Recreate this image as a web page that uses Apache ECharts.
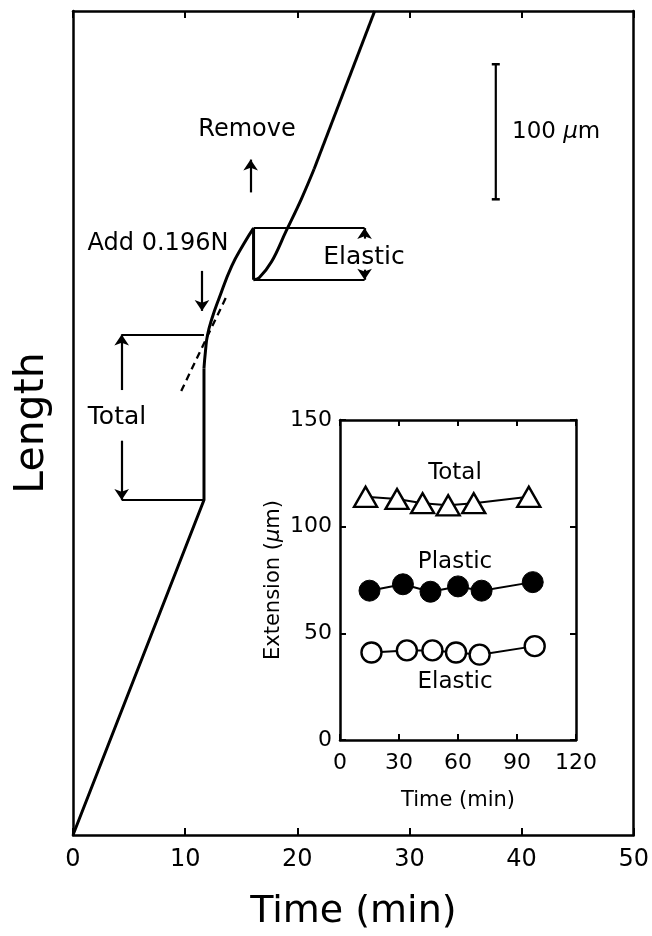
<!DOCTYPE html>
<html>
<head>
<meta charset="utf-8">
<script src="https://cdn.jsdelivr.net/npm/echarts@6/dist/echarts.min.js"></script>
<style>
  html, body { margin: 0; padding: 0; background: #fff; }
  #chart { width: 652px; height: 936px; }
</style>
</head>
<body>
<div id="chart"></div>
<script>
// Main trace: specimen length (µm) against time (min)
// Constant-rate stretch before the load is added
var rampTime = [0, 11.68, 11.68];
var rampLength = [0, 248, 345.6];
// Creep under load, up to removal
var creepTime = [11.68, 11.81, 11.99, 12.39, 13.01, 14.16, 15.22, 16.1];
var creepLength = [345.6, 358, 369.9, 382.4, 397, 421.3, 437.5, 449.3];
// Elastic recoil when the load is removed
var recoilTime = [16.1, 16.1];
var recoilLength = [449.3, 411];
// Recovery and resumed stretch
var recoverTime = [16.1, 16.6, 17.7, 19.0, 20.35, 21.5];
var recoverLength = [411, 412.5, 424.3, 447, 470.6, 493];
var resumeTime = [21.5, 26.9];
var resumeLength = [493, 610];
// Extrapolated creep line (dashed)
var tangentTime = [9.65, 13.72];
var tangentLength = [328.7, 399.3];

// Measurement brackets
var totalBracket = { t0: 4.34, t1: 11.68, low: 248, high: 370.6 };
var elasticBracket = { t0: 16.1, t1: 26.0, low: 411, high: 449.3 };
var scaleBar = { t: 37.7, low: 470.6, high: 570.6 };

// Inset: extension (µm) against time (min)
var totalTime = [13, 29, 42, 55, 68, 96];
var totalExt = [114, 113, 111, 110, 111, 114];
var plasticTime = [15, 32, 46, 60, 72, 98];
var plasticExt = [70, 73, 69.5, 72, 70, 74];
var elasticTime = [16, 34, 47, 59, 71, 99];
var elasticExt = [41, 42, 42, 41, 40, 44];

function pairs(xs, ys) { return xs.map(function (x, i) { return [x, ys[i]]; }); }

var FONT = 'DejaVu Sans';
var BLACK = '#000';
var chart = echarts.init(document.getElementById('chart'), null, { renderer: 'canvas' });

function frameAxis(extra) {
  return Object.assign({
    type: 'value',
    axisLine: { show: true, onZero: false, lineStyle: { color: BLACK, width: 2.5 } },
    axisTick: { show: false },
    axisLabel: { show: false },
    splitLine: { show: false }
  }, extra);
}
function ticks(len) {
  return { show: true, inside: true, length: len, lineStyle: { color: BLACK, width: 2 } };
}

var bracketLines = [
  { coords: [[totalBracket.t0, totalBracket.high], [totalBracket.t1, totalBracket.high]] },
  { coords: [[totalBracket.t0, totalBracket.low], [totalBracket.t1, totalBracket.low]] },
  { coords: [[elasticBracket.t0, elasticBracket.high], [elasticBracket.t1, elasticBracket.high]] },
  { coords: [[elasticBracket.t0, elasticBracket.low], [elasticBracket.t1, elasticBracket.low]] }
];

var arrowLines = [
  { coords: [[totalBracket.t0, 329.4], [totalBracket.t0, totalBracket.high]] },
  { coords: [[totalBracket.t0, 291.9], [totalBracket.t0, totalBracket.low]] },
  { coords: [[elasticBracket.t1, 441.5], [elasticBracket.t1, elasticBracket.high]] },
  { coords: [[elasticBracket.t1, 418.5], [elasticBracket.t1, elasticBracket.low]] },
  // "Add 0.196N" arrow
  { coords: [[11.5, 417.6], [11.5, 388]] },
  // "Remove" arrow
  { coords: [[15.84, 475.7], [15.84, 500]] }
];

function traceSeries(xs, ys, smooth) {
  return {
    type: 'line', xAxisIndex: 0, yAxisIndex: 0, data: pairs(xs, ys),
    showSymbol: false, smooth: smooth, lineStyle: { color: BLACK, width: 3 }, z: 5
  };
}

function label(x, y, text, size, extra) {
  return {
    type: 'text', x: x, y: y, z: 100,
    style: Object.assign({
      text: text, font: size + 'px "DejaVu Sans"', fill: BLACK,
      textAlign: 'center', textVerticalAlign: 'middle'
    }, extra || {})
  };
}

var option = {
  backgroundColor: '#fff',
  animation: false,
  textStyle: { fontFamily: FONT, color: BLACK },
  grid: [
    { left: 73, right: 14, top: 11, bottom: 96, show: false },
    { left: 340, right: 76, top: 420, bottom: 196, show: true, backgroundColor: '#fff', borderWidth: 0 }
  ],
  xAxis: [
    frameAxis({
      gridIndex: 0, min: 0, max: 50, interval: 10, position: 'bottom',
      axisTick: ticks(7),
      axisLabel: { show: true, color: BLACK, fontSize: 24, fontFamily: FONT, margin: 13 },
      name: 'Time (min)', nameLocation: 'middle', nameGap: 58,
      nameTextStyle: { fontSize: 38, fontFamily: FONT, color: BLACK }
    }),
    frameAxis({ gridIndex: 0, min: 0, max: 50, interval: 10, position: 'top', axisTick: ticks(7) }),
    frameAxis({
      gridIndex: 1, min: 0, max: 120, interval: 30, position: 'bottom',
      axisTick: ticks(6),
      axisLabel: { show: true, color: BLACK, fontSize: 22, fontFamily: FONT, margin: 12 },
      name: 'Time (min)', nameLocation: 'middle', nameGap: 50,
      nameTextStyle: { fontSize: 21, fontFamily: FONT, color: BLACK }
    }),
    frameAxis({ gridIndex: 1, min: 0, max: 120, interval: 30, position: 'top', axisTick: ticks(6) })
  ],
  yAxis: [
    frameAxis({
      gridIndex: 0, min: 0, max: 610, position: 'left',
      name: 'Length', nameLocation: 'middle', nameGap: 20,
      nameTextStyle: { fontSize: 41, fontFamily: FONT, color: BLACK }
    }),
    frameAxis({ gridIndex: 0, min: 0, max: 610, position: 'right' }),
    frameAxis({
      gridIndex: 1, min: 0, max: 150, interval: 50, position: 'left',
      axisTick: ticks(6),
      axisLabel: { show: true, color: BLACK, fontSize: 22, fontFamily: FONT, margin: 8 },
      name: 'Extension ({i|μ}m)', nameLocation: 'middle', nameGap: 56,
      nameTextStyle: {
        fontSize: 21, fontFamily: FONT, color: BLACK,
        rich: { i: { fontSize: 21, fontStyle: 'italic', fontFamily: FONT, color: BLACK } }
      }
    }),
    frameAxis({ gridIndex: 1, min: 0, max: 150, interval: 50, position: 'right', axisTick: ticks(6) })
  ],
  series: [
    traceSeries(rampTime, rampLength, false),
    traceSeries(creepTime, creepLength, true),
    traceSeries(recoilTime, recoilLength, false),
    traceSeries(recoverTime, recoverLength, 0.4),
    traceSeries(resumeTime, resumeLength, false),
    {
      type: 'line', xAxisIndex: 0, yAxisIndex: 0, data: pairs(tangentTime, tangentLength),
      showSymbol: false, lineStyle: { color: BLACK, width: 2.3, type: [7, 5] }, z: 4
    },
    {
      type: 'lines', coordinateSystem: 'cartesian2d', xAxisIndex: 0, yAxisIndex: 0,
      data: bracketLines, symbol: 'none', lineStyle: { color: BLACK, width: 2.2, opacity: 1 }
    },
    {
      type: 'lines', coordinateSystem: 'cartesian2d', xAxisIndex: 0, yAxisIndex: 0,
      data: arrowLines, symbol: ['none', 'arrow'], symbolSize: [8, 11],
      lineStyle: { color: BLACK, width: 2.2, opacity: 1 }
    },
    {
      type: 'line', xAxisIndex: 0, yAxisIndex: 0,
      data: [[scaleBar.t, scaleBar.low], [scaleBar.t, scaleBar.high]],
      symbol: 'rect', symbolSize: [8, 2.5], showSymbol: true,
      itemStyle: { color: BLACK }, lineStyle: { color: BLACK, width: 2.2 }
    },
    // Inset series
    {
      type: 'line', xAxisIndex: 2, yAxisIndex: 2, data: pairs(totalTime, totalExt),
      symbol: 'triangle', symbolSize: [23, 20], showSymbol: true,
      itemStyle: { color: '#fff', borderColor: BLACK, borderWidth: 2.4 },
      lineStyle: { color: BLACK, width: 2 }
    },
    {
      type: 'line', xAxisIndex: 2, yAxisIndex: 2, data: pairs(plasticTime, plasticExt),
      symbol: 'circle', symbolSize: 21, showSymbol: true,
      itemStyle: { color: BLACK, borderColor: BLACK, borderWidth: 1 },
      lineStyle: { color: BLACK, width: 2 }
    },
    {
      type: 'line', xAxisIndex: 2, yAxisIndex: 2, data: pairs(elasticTime, elasticExt),
      symbol: 'circle', symbolSize: 20, showSymbol: true,
      itemStyle: { color: '#fff', borderColor: BLACK, borderWidth: 2.4 },
      lineStyle: { color: BLACK, width: 2 }
    }
  ],
  graphic: [
    label(247, 130, 'Remove', 24),
    label(158, 244, 'Add 0.196N', 24),
    label(364, 257, 'Elastic', 25),
    label(117, 417, 'Total', 25),
    {
      type: 'text', x: 512, y: 132, z: 100,
      style: {
        text: '100 {i|μ}m', font: '23px "DejaVu Sans"', fill: BLACK,
        textAlign: 'left', textVerticalAlign: 'middle',
        rich: { i: { fontStyle: 'italic', fontSize: 23, fontFamily: FONT, fill: BLACK } }
      }
    },
    label(455, 473, 'Total', 23),
    label(455, 562, 'Plastic', 23),
    label(455, 682, 'Elastic', 23)
  ]
};

chart.setOption(option);
</script>
</body>
</html>
